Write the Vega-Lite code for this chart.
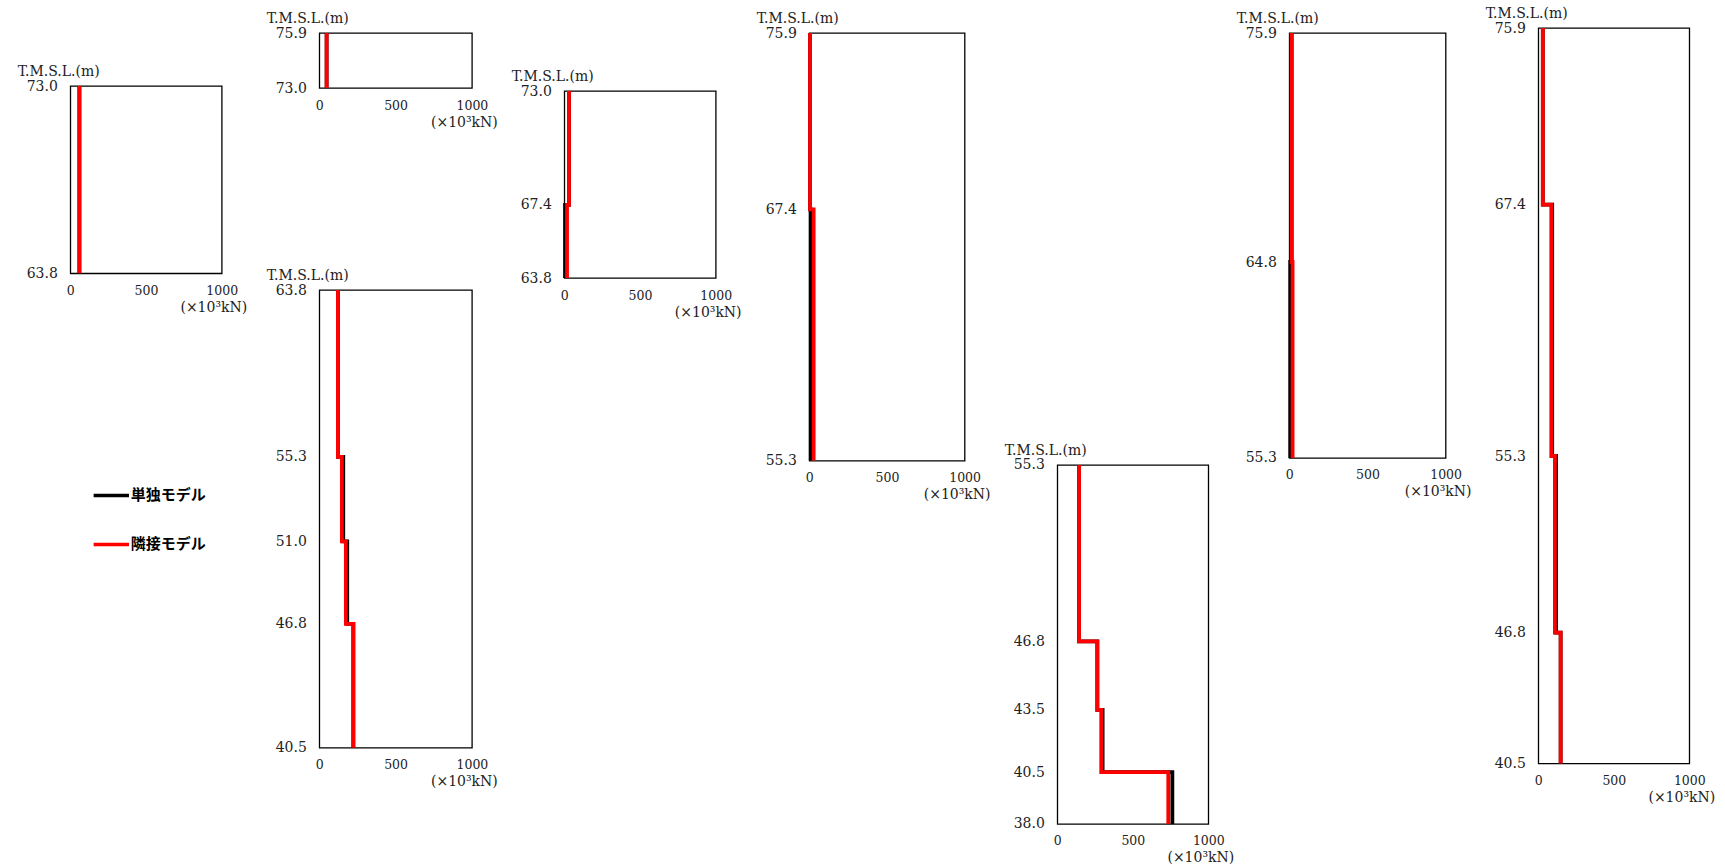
{
  "$schema": "https://vega.github.io/schema/vega-lite/v6.json",
  "background": "white",
  "padding": {"left": 16.3, "top": 0, "right": 0, "bottom": 0},
  "datasets": {
    "loads": [
      {"panel": "A", "model": "単独モデル", "seq": 0, "elev": 73.0, "value": 60},
      {"panel": "A", "model": "単独モデル", "seq": 1, "elev": 63.8, "value": 60},
      {"panel": "B", "model": "単独モデル", "seq": 0, "elev": 75.9, "value": 48},
      {"panel": "B", "model": "単独モデル", "seq": 1, "elev": 73.0, "value": 48},
      {"panel": "C", "model": "単独モデル", "seq": 0, "elev": 63.8, "value": 122},
      {"panel": "C", "model": "単独モデル", "seq": 1, "elev": 55.3, "value": 122},
      {"panel": "C", "model": "単独モデル", "seq": 2, "elev": 55.3, "value": 157},
      {"panel": "C", "model": "単独モデル", "seq": 3, "elev": 51.0, "value": 157},
      {"panel": "C", "model": "単独モデル", "seq": 4, "elev": 51.0, "value": 183},
      {"panel": "C", "model": "単独モデル", "seq": 5, "elev": 46.8, "value": 183},
      {"panel": "C", "model": "単独モデル", "seq": 6, "elev": 46.8, "value": 223},
      {"panel": "C", "model": "単独モデル", "seq": 7, "elev": 40.5, "value": 223},
      {"panel": "D", "model": "単独モデル", "seq": 0, "elev": 73.0, "value": 31},
      {"panel": "D", "model": "単独モデル", "seq": 1, "elev": 67.4, "value": 31},
      {"panel": "D", "model": "単独モデル", "seq": 2, "elev": 67.4, "value": 5},
      {"panel": "D", "model": "単独モデル", "seq": 3, "elev": 63.8, "value": 5},
      {"panel": "E", "model": "単独モデル", "seq": 0, "elev": 75.9, "value": 5},
      {"panel": "E", "model": "単独モデル", "seq": 1, "elev": 67.4, "value": 5},
      {"panel": "E", "model": "単独モデル", "seq": 2, "elev": 67.4, "value": 9},
      {"panel": "E", "model": "単独モデル", "seq": 3, "elev": 55.3, "value": 9},
      {"panel": "F", "model": "単独モデル", "seq": 0, "elev": 55.3, "value": 144},
      {"panel": "F", "model": "単独モデル", "seq": 1, "elev": 46.8, "value": 144},
      {"panel": "F", "model": "単独モデル", "seq": 2, "elev": 46.8, "value": 265},
      {"panel": "F", "model": "単独モデル", "seq": 3, "elev": 43.5, "value": 265},
      {"panel": "F", "model": "単独モデル", "seq": 4, "elev": 43.5, "value": 300},
      {"panel": "F", "model": "単独モデル", "seq": 5, "elev": 40.5, "value": 300},
      {"panel": "F", "model": "単独モデル", "seq": 6, "elev": 40.5, "value": 762},
      {"panel": "F", "model": "単独モデル", "seq": 7, "elev": 38.0, "value": 762},
      {"panel": "G", "model": "単独モデル", "seq": 0, "elev": 75.9, "value": 15},
      {"panel": "G", "model": "単独モデル", "seq": 1, "elev": 64.8, "value": 15},
      {"panel": "G", "model": "単独モデル", "seq": 2, "elev": 64.8, "value": 6},
      {"panel": "G", "model": "単独モデル", "seq": 3, "elev": 55.3, "value": 6},
      {"panel": "H", "model": "単独モデル", "seq": 0, "elev": 75.9, "value": 30},
      {"panel": "H", "model": "単独モデル", "seq": 1, "elev": 67.4, "value": 30},
      {"panel": "H", "model": "単独モデル", "seq": 2, "elev": 67.4, "value": 92},
      {"panel": "H", "model": "単独モデル", "seq": 3, "elev": 55.3, "value": 92},
      {"panel": "H", "model": "単独モデル", "seq": 4, "elev": 55.3, "value": 118},
      {"panel": "H", "model": "単独モデル", "seq": 5, "elev": 46.8, "value": 118},
      {"panel": "H", "model": "単独モデル", "seq": 6, "elev": 46.8, "value": 148},
      {"panel": "H", "model": "単独モデル", "seq": 7, "elev": 40.5, "value": 148},
      {"panel": "A", "model": "隣接モデル", "seq": 0, "elev": 73.0, "value": 60},
      {"panel": "A", "model": "隣接モデル", "seq": 1, "elev": 63.8, "value": 60},
      {"panel": "B", "model": "隣接モデル", "seq": 0, "elev": 75.9, "value": 48},
      {"panel": "B", "model": "隣接モデル", "seq": 1, "elev": 73.0, "value": 48},
      {"panel": "C", "model": "隣接モデル", "seq": 0, "elev": 63.8, "value": 122},
      {"panel": "C", "model": "隣接モデル", "seq": 1, "elev": 55.3, "value": 122},
      {"panel": "C", "model": "隣接モデル", "seq": 2, "elev": 55.3, "value": 148},
      {"panel": "C", "model": "隣接モデル", "seq": 3, "elev": 51.0, "value": 148},
      {"panel": "C", "model": "隣接モデル", "seq": 4, "elev": 51.0, "value": 174},
      {"panel": "C", "model": "隣接モデル", "seq": 5, "elev": 46.8, "value": 174},
      {"panel": "C", "model": "隣接モデル", "seq": 6, "elev": 46.8, "value": 223},
      {"panel": "C", "model": "隣接モデル", "seq": 7, "elev": 40.5, "value": 223},
      {"panel": "D", "model": "隣接モデル", "seq": 0, "elev": 73.0, "value": 31},
      {"panel": "D", "model": "隣接モデル", "seq": 1, "elev": 67.4, "value": 31},
      {"panel": "D", "model": "隣接モデル", "seq": 2, "elev": 67.4, "value": 18},
      {"panel": "D", "model": "隣接モデル", "seq": 3, "elev": 63.8, "value": 18},
      {"panel": "E", "model": "隣接モデル", "seq": 0, "elev": 75.9, "value": 5},
      {"panel": "E", "model": "隣接モデル", "seq": 1, "elev": 67.4, "value": 5},
      {"panel": "E", "model": "隣接モデル", "seq": 2, "elev": 67.4, "value": 28},
      {"panel": "E", "model": "隣接モデル", "seq": 3, "elev": 55.3, "value": 28},
      {"panel": "F", "model": "隣接モデル", "seq": 0, "elev": 55.3, "value": 144},
      {"panel": "F", "model": "隣接モデル", "seq": 1, "elev": 46.8, "value": 144},
      {"panel": "F", "model": "隣接モデル", "seq": 2, "elev": 46.8, "value": 265},
      {"panel": "F", "model": "隣接モデル", "seq": 3, "elev": 43.5, "value": 265},
      {"panel": "F", "model": "隣接モデル", "seq": 4, "elev": 43.5, "value": 291},
      {"panel": "F", "model": "隣接モデル", "seq": 5, "elev": 40.5, "value": 291},
      {"panel": "F", "model": "隣接モデル", "seq": 6, "elev": 40.5, "value": 735},
      {"panel": "F", "model": "隣接モデル", "seq": 7, "elev": 38.0, "value": 735},
      {"panel": "G", "model": "隣接モデル", "seq": 0, "elev": 75.9, "value": 15},
      {"panel": "G", "model": "隣接モデル", "seq": 1, "elev": 64.8, "value": 15},
      {"panel": "G", "model": "隣接モデル", "seq": 2, "elev": 64.8, "value": 21},
      {"panel": "G", "model": "隣接モデル", "seq": 3, "elev": 55.3, "value": 21},
      {"panel": "H", "model": "隣接モデル", "seq": 0, "elev": 75.9, "value": 30},
      {"panel": "H", "model": "隣接モデル", "seq": 1, "elev": 67.4, "value": 30},
      {"panel": "H", "model": "隣接モデル", "seq": 2, "elev": 67.4, "value": 86},
      {"panel": "H", "model": "隣接モデル", "seq": 3, "elev": 55.3, "value": 86},
      {"panel": "H", "model": "隣接モデル", "seq": 4, "elev": 55.3, "value": 110},
      {"panel": "H", "model": "隣接モデル", "seq": 5, "elev": 46.8, "value": 110},
      {"panel": "H", "model": "隣接モデル", "seq": 6, "elev": 46.8, "value": 148},
      {"panel": "H", "model": "隣接モデル", "seq": 7, "elev": 40.5, "value": 148}
    ]
  },
  "spacing": 0,
  "resolve": {"scale": {"color": "shared"}, "legend": {"color": "shared"}},
  "hconcat": [
    {
      "spacing": 0, "bounds": "flush",
      "vconcat": [
        {"width": 194.6, "height": 86, "data": {"values": [{}]}, "mark": {"type": "point", "opacity": 0}, "view": {"stroke": null}},
        {
          "width": 151.4, "height": 187.3,
          "data": {"name": "loads"},
          "transform": [{"filter": "datum.panel === 'A'"}],
          "mark": {"type": "line", "strokeWidth": 3.8, "strokeJoin": "miter", "strokeCap": "butt"},
          "encoding": {
            "x": {"field": "value", "type": "quantitative", "scale": {"domain": [0, 1000], "nice": false}, "axis": {"values": [0, 500, 1000], "format": "d", "title": "(×10³kN)", "titleX": 143, "titleY": 34}},
            "y": {"field": "elev", "type": "quantitative", "scale": {"domain": [63.8, 73.0], "nice": false, "zero": false}, "axis": {"values": [73.0, 63.8], "format": ".1f", "title": "T.M.S.L.(m)", "titleX": -53, "titleY": -14.5}},
            "order": {"field": "seq", "type": "quantitative"},
            "color": {"field": "model", "type": "nominal", "scale": {"domain": ["単独モデル", "隣接モデル"], "range": ["#000000", "#ff0000"]}, "legend": {"title": null}}
          }
        }
      ]
    },
    {
      "spacing": 0, "bounds": "flush",
      "vconcat": [
        {"width": 190.8, "height": 32.3, "data": {"values": [{}]}, "mark": {"type": "point", "opacity": 0}, "view": {"stroke": null}},
        {
          "width": 152.6, "height": 55,
          "data": {"name": "loads"},
          "transform": [{"filter": "datum.panel === 'B'"}],
          "mark": {"type": "line", "strokeWidth": 3.8, "strokeJoin": "miter", "strokeCap": "butt"},
          "encoding": {
            "x": {"field": "value", "type": "quantitative", "scale": {"domain": [0, 1000], "nice": false}, "axis": {"values": [0, 500, 1000], "format": "d", "title": "(×10³kN)", "titleX": 144.6, "titleY": 34}},
            "y": {"field": "elev", "type": "quantitative", "scale": {"domain": [73.0, 75.9], "nice": false, "zero": false}, "axis": {"values": [75.9, 73.0], "format": ".1f", "title": "T.M.S.L.(m)", "titleX": -53, "titleY": -14.5}},
            "order": {"field": "seq", "type": "quantitative"},
            "color": {"field": "model", "type": "nominal", "scale": {"domain": ["単独モデル", "隣接モデル"], "range": ["#000000", "#ff0000"]}, "legend": {"title": null}}
          }
        },
        {"width": 190.8, "height": 201.7, "data": {"values": [{}]}, "mark": {"type": "point", "opacity": 0}, "view": {"stroke": null}},
        {
          "width": 152.6, "height": 457.7,
          "data": {"name": "loads"},
          "transform": [{"filter": "datum.panel === 'C'"}],
          "mark": {"type": "line", "strokeWidth": 3.8, "strokeJoin": "miter", "strokeCap": "butt"},
          "encoding": {
            "x": {"field": "value", "type": "quantitative", "scale": {"domain": [0, 1000], "nice": false}, "axis": {"values": [0, 500, 1000], "format": "d", "title": "(×10³kN)", "titleX": 144.6, "titleY": 34}},
            "y": {"field": "elev", "type": "quantitative", "scale": {"domain": [40.5, 63.8], "nice": false, "zero": false}, "axis": {"values": [63.8, 55.3, 51.0, 46.8, 40.5], "format": ".1f", "title": "T.M.S.L.(m)", "titleX": -53, "titleY": -14.5}},
            "order": {"field": "seq", "type": "quantitative"},
            "color": {"field": "model", "type": "nominal", "scale": {"domain": ["単独モデル", "隣接モデル"], "range": ["#000000", "#ff0000"]}, "legend": {"title": null}}
          }
        }
      ]
    },
    {
      "spacing": 0, "bounds": "flush",
      "vconcat": [
        {"width": 190.9, "height": 90.3, "data": {"values": [{}]}, "mark": {"type": "point", "opacity": 0}, "view": {"stroke": null}},
        {
          "width": 151.4, "height": 187,
          "data": {"name": "loads"},
          "transform": [{"filter": "datum.panel === 'D'"}],
          "mark": {"type": "line", "strokeWidth": 3.8, "strokeJoin": "miter", "strokeCap": "butt"},
          "encoding": {
            "x": {"field": "value", "type": "quantitative", "scale": {"domain": [0, 1000], "nice": false}, "axis": {"values": [0, 500, 1000], "format": "d", "title": "(×10³kN)", "titleX": 143.4, "titleY": 34}},
            "y": {"field": "elev", "type": "quantitative", "scale": {"domain": [63.8, 73.0], "nice": false, "zero": false}, "axis": {"values": [73.0, 67.4, 63.8], "format": ".1f", "title": "T.M.S.L.(m)", "titleX": -53, "titleY": -14.5}},
            "order": {"field": "seq", "type": "quantitative"},
            "color": {"field": "model", "type": "nominal", "scale": {"domain": ["単独モデル", "隣接モデル"], "range": ["#000000", "#ff0000"]}, "legend": {"title": null}}
          }
        }
      ]
    },
    {
      "spacing": 0, "bounds": "flush",
      "vconcat": [
        {"width": 193.5, "height": 32.7, "data": {"values": [{}]}, "mark": {"type": "point", "opacity": 0}, "view": {"stroke": null}},
        {
          "width": 155.3, "height": 427.6,
          "data": {"name": "loads"},
          "transform": [{"filter": "datum.panel === 'E'"}],
          "mark": {"type": "line", "strokeWidth": 3.8, "strokeJoin": "miter", "strokeCap": "butt"},
          "encoding": {
            "x": {"field": "value", "type": "quantitative", "scale": {"domain": [0, 1000], "nice": false}, "axis": {"values": [0, 500, 1000], "format": "d", "title": "(×10³kN)", "titleX": 147.3, "titleY": 34}},
            "y": {"field": "elev", "type": "quantitative", "scale": {"domain": [55.3, 75.9], "nice": false, "zero": false}, "axis": {"values": [75.9, 67.4, 55.3], "format": ".1f", "title": "T.M.S.L.(m)", "titleX": -53, "titleY": -14.5}},
            "order": {"field": "seq", "type": "quantitative"},
            "color": {"field": "model", "type": "nominal", "scale": {"domain": ["単独モデル", "隣接モデル"], "range": ["#000000", "#ff0000"]}, "legend": {"title": null}}
          }
        }
      ]
    },
    {
      "spacing": 0, "bounds": "flush",
      "vconcat": [
        {"width": 175.9, "height": 464.3, "data": {"values": [{}]}, "mark": {"type": "point", "opacity": 0}, "view": {"stroke": null}},
        {
          "width": 151, "height": 359,
          "data": {"name": "loads"},
          "transform": [{"filter": "datum.panel === 'F'"}],
          "mark": {"type": "line", "strokeWidth": 3.8, "strokeJoin": "miter", "strokeCap": "butt"},
          "encoding": {
            "x": {"field": "value", "type": "quantitative", "scale": {"domain": [0, 1000], "nice": false}, "axis": {"values": [0, 500, 1000], "format": "d", "title": "(×10³kN)", "titleX": 143, "titleY": 34}},
            "y": {"field": "elev", "type": "quantitative", "scale": {"domain": [38.0, 55.3], "nice": false, "zero": false}, "axis": {"values": [55.3, 46.8, 43.5, 40.5, 38.0], "format": ".1f", "title": "T.M.S.L.(m)", "titleX": -53, "titleY": -14.5}},
            "order": {"field": "seq", "type": "quantitative"},
            "color": {"field": "model", "type": "nominal", "scale": {"domain": ["単独モデル", "隣接モデル"], "range": ["#000000", "#ff0000"]}, "legend": {"title": null}}
          }
        }
      ]
    },
    {
      "spacing": 0, "bounds": "flush",
      "vconcat": [
        {"width": 194.9, "height": 32.3, "data": {"values": [{}]}, "mark": {"type": "point", "opacity": 0}, "view": {"stroke": null}},
        {
          "width": 156.3, "height": 425,
          "data": {"name": "loads"},
          "transform": [{"filter": "datum.panel === 'G'"}],
          "mark": {"type": "line", "strokeWidth": 3.8, "strokeJoin": "miter", "strokeCap": "butt"},
          "encoding": {
            "x": {"field": "value", "type": "quantitative", "scale": {"domain": [0, 1000], "nice": false}, "axis": {"values": [0, 500, 1000], "format": "d", "title": "(×10³kN)", "titleX": 148.3, "titleY": 34}},
            "y": {"field": "elev", "type": "quantitative", "scale": {"domain": [55.3, 75.9], "nice": false, "zero": false}, "axis": {"values": [75.9, 64.8, 55.3], "format": ".1f", "title": "T.M.S.L.(m)", "titleX": -53, "titleY": -14.5}},
            "order": {"field": "seq", "type": "quantitative"},
            "color": {"field": "model", "type": "nominal", "scale": {"domain": ["単独モデル", "隣接モデル"], "range": ["#000000", "#ff0000"]}, "legend": {"title": null}}
          }
        }
      ]
    },
    {
      "spacing": 0, "bounds": "flush",
      "vconcat": [
        {"width": 151, "height": 27.5, "data": {"values": [{}]}, "mark": {"type": "point", "opacity": 0}, "view": {"stroke": null}},
        {
          "width": 151, "height": 735.5,
          "data": {"name": "loads"},
          "transform": [{"filter": "datum.panel === 'H'"}],
          "mark": {"type": "line", "strokeWidth": 3.8, "strokeJoin": "miter", "strokeCap": "butt"},
          "encoding": {
            "x": {"field": "value", "type": "quantitative", "scale": {"domain": [0, 1000], "nice": false}, "axis": {"values": [0, 500, 1000], "format": "d", "title": "(×10³kN)", "titleX": 143, "titleY": 34}},
            "y": {"field": "elev", "type": "quantitative", "scale": {"domain": [40.5, 75.9], "nice": false, "zero": false}, "axis": {"values": [75.9, 67.4, 55.3, 46.8, 40.5], "format": ".1f", "title": "T.M.S.L.(m)", "titleX": -53, "titleY": -14.5}},
            "order": {"field": "seq", "type": "quantitative"},
            "color": {"field": "model", "type": "nominal", "scale": {"domain": ["単独モデル", "隣接モデル"], "range": ["#000000", "#ff0000"]}, "legend": {"title": null}}
          }
        }
      ]
    }
  ],
  "config": {
    "font": "DejaVu Serif",
    "view": {"stroke": "#000000", "strokeWidth": 1.3},
    "axis": {
      "grid": false, "ticks": false, "domain": false,
      "labelFont": "DejaVu Serif", "labelColor": "#222222",
      "labelFlush": false, "labelOverlap": false,
      "titleFont": "DejaVu Serif", "titleFontSize": 14, "titleFontWeight": "normal", "titleColor": "#222222"
    },
    "axisX": {"labelFontSize": 12.5, "labelPadding": 11, "labelAlign": "center", "labelBaseline": "top", "titleAlign": "center", "titleBaseline": "middle"},
    "axisY": {"labelFontSize": 14, "labelPadding": 13, "labelBaseline": "middle", "titleAngle": 0, "titleAlign": "left", "titleBaseline": "middle"},
    "legend": {
      "orient": "none", "legendX": 21.5, "legendY": 476, "padding": 0,
      "symbolType": "stroke", "symbolSize": 1250, "symbolStrokeWidth": 3.5,
      "labelFont": "Noto Sans CJK JP", "labelFontSize": 15, "labelFontWeight": "bold", "labelColor": "#000000",
      "labelOffset": 0, "rowPadding": 21
    }
  }
}
